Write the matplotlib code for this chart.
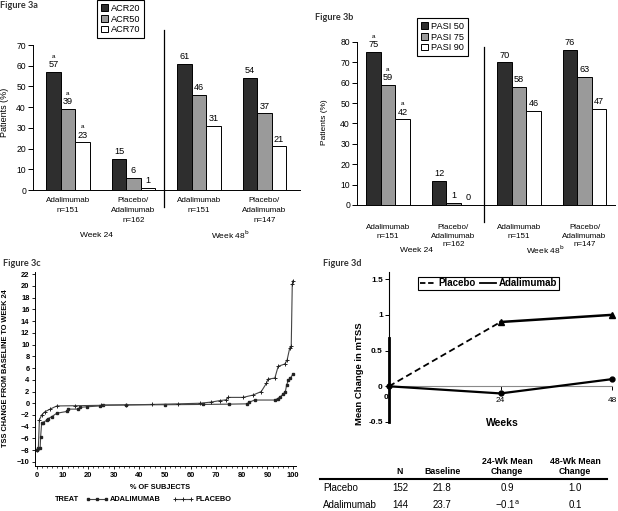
import numpy as np
import matplotlib
matplotlib.use('Agg')
import matplotlib.pyplot as plt
from matplotlib.lines import Line2D

plt.rcParams['font.family'] = ['Liberation Sans', 'DejaVu Sans']
NARROW = ['Liberation Sans', 'DejaVu Sans']
TITLE = ['Lato', 'DejaVu Sans']

# ---- data ----
acr_groups = ['Adalimumab\nn=151', 'Placebo/\nAdalimumab\nn=162',
              'Adalimumab\nn=151', 'Placebo/\nAdalimumab\nn=147']
acr_names = ['ACR20', 'ACR50', 'ACR70']
acr20 = [57, 15, 61, 54]
acr50 = [39, 6, 46, 37]
acr70 = [23, 1, 31, 21]
acr_sig = [True, False, False, False]

pasi_groups = ['Adalimumab\nn=151', 'Placebo/\nAdalimumab\nn=162',
               'Adalimumab\nn=151', 'Placebo/\nAdalimumab\nn=147']
pasi_names = ['PASI 50', 'PASI 75', 'PASI 90']
pasi50 = [75, 12, 70, 76]
pasi75 = [59, 1, 58, 63]
pasi90 = [42, 0, 46, 47]
pasi_sig = [True, False, False, False]

# cumulative probability plot (% of subjects, TSS change)
adal_pct = [0, 0.4, 1.3, 1.5, 1.9, 2.3, 3.9, 4.5, 5.8, 7.8, 11.7, 12.3, 16.2, 16.9,
            19.5, 24.7, 26, 35, 50, 65, 75, 82, 83, 85, 93, 94, 95, 96, 97, 97.5,
            98.2, 99, 100]
adal_tss = [-7.9, -7.7, -7.7, -5.7, -3.4, -3.3, -2.9, -2.6, -2.3, -1.7, -1.4, -1.0,
            -1.0, -0.7, -0.6, -0.46, -0.3, -0.28, -0.25, -0.2, -0.15, -0.1, 0.2, 0.55,
            0.55, 0.8, 1.1, 1.5, 2.0, 3.1, 4.0, 4.3, 5.0]
plac_pct = [0, 0.6, 1.0, 1.9, 3.2, 5.2, 7.8, 15, 25, 35, 45, 55, 63.6, 68, 71.4, 74,
            74.6, 80.5, 84.4, 87.6, 89.6, 90.2, 92.9, 94.2, 96.8, 97.7, 98.7, 99.3,
            99.7, 100]
plac_tss = [-7.9, -7.8, -2.85, -2.0, -1.44, -1.0, -0.46, -0.42, -0.35, -0.28, -0.2,
            -0.1, 0.0, 0.2, 0.45, 0.6, 1.0, 1.0, 1.4, 2.0, 3.4, 4.1, 4.3, 6.3, 6.7,
            7.4, 9.4, 9.8, 20.3, 20.9]

weeks = [0, 24, 48]
placebo_mtss = [0, 0.9, 1.0]
adal_mtss = [0, -0.1, 0.1]

tbl_cols = ['N', 'Baseline', '24-Wk Mean\nChange', '48-Wk Mean\nChange']
tbl_rows = ['Placebo', 'Adalimumab']
tbl_vals = [['152', '21.8', '0.9', '1.0'],
            ['144', '23.7', '\u22120.1$^{\\mathrm{a}}$', '0.1']]

# ---- layout helpers (pixel coords of a 618x511 canvas) ----
W, H = 618, 511
def rect(l, t, r, b):
    return [l / W, 1 - b / H, (r - l) / W, (b - t) / H]
def fx(x):
    return x / W
def fy(y):
    return 1 - y / H

fig = plt.figure(figsize=(6.18, 5.11), dpi=100)
BAR_COLORS = ['#2e2e2e', '#9a9a9a', 'white']
BW = 0.221


def bar_panel(ax, groups, series, names, sig, ymax, xlim, pad, linesp, div_y):
    x = np.arange(len(groups))
    handles = []
    for k, (vals, col) in enumerate(zip(series, BAR_COLORS)):
        bars = ax.bar(x + (k - 1) * BW, vals, BW, color=col, edgecolor='black', linewidth=0.7)
        handles.append(bars)
        for i, (b, v) in enumerate(zip(bars, vals)):
            cx = b.get_x() + b.get_width() / 2
            ax.annotate(str(v), (cx, v), xytext=(0, 2), textcoords='offset points',
                        ha='center', va='bottom', fontsize=6.6)
            if sig[i]:
                ax.annotate('a', (cx, v), xytext=(0, 9.5), textcoords='offset points',
                            ha='center', va='bottom', fontsize=4.5)
    ax.set_xlim(*xlim)
    ax.set_ylim(0, ymax)
    ax.set_yticks(np.arange(0, ymax + 1, 10))
    ax.set_xticks(x, groups)
    ax.tick_params(axis='x', length=0, pad=pad, labelsize=5.8)
    ax.tick_params(axis='y', length=3.5, width=0.7, labelsize=6.2, pad=1.5)
    for lbl in ax.get_xticklabels():
        lbl.set_linespacing(linesp)
    for s in ['top', 'right']:
        ax.spines[s].set_visible(False)
    ax.spines['left'].set_linewidth(0.7)
    ax.spines['bottom'].set_linewidth(0.7)
    ax.plot([1.46, 1.46], div_y, color='black', lw=0.9, clip_on=False)
    return handles


def box_legend(ax, handles, names, left, top):
    leg = ax.legend(handles, names, loc='upper left', bbox_to_anchor=(fx(left), fy(top)),
                    bbox_transform=fig.transFigure, fancybox=False, edgecolor='black',
                    fontsize=6.6, handlelength=0.75, handleheight=0.75, handletextpad=0.4,
                    borderpad=0.4, labelspacing=0.2, borderaxespad=0, framealpha=1)
    leg.get_frame().set_linewidth(0.8)


# ---- Figure 3a ----
ax = fig.add_axes(rect(33, 45, 300, 190))
h = bar_panel(ax, acr_groups, [acr20, acr50, acr70], acr_names, acr_sig, 70,
              ((33 - 68) / 65.5, (300 - 68) / 65.5), 5.2, 1.55, [77.3, -8.2])
box_legend(ax, h, acr_names, 97, 0)
fig.text(fx(5), fy(112), 'Patients (%)', rotation=90, ha='center', va='center', fontsize=6.5)
fig.text(fx(96), fy(235), 'Week 24', ha='center', va='center', fontsize=6)
fig.text(fx(230), fy(235), 'Week 48$^{\\mathrm{b}}$', ha='center', va='center', fontsize=6)
fig.text(fx(0), fy(6), 'Figure 3a', ha='left', va='center', fontsize=6.6,
         fontweight='bold', family=TITLE, color='#333333')

# ---- Figure 3b ----
ax = fig.add_axes(rect(357, 42, 615, 205))
h = bar_panel(ax, pasi_groups, [pasi50, pasi75, pasi90], pasi_names, pasi_sig, 80,
              ((357 - 388) / 65.5, (615 - 388) / 65.5), 14, 1.3, [77.5, -8.3])
box_legend(ax, h, pasi_names, 417, 18)
fig.text(fx(325), fy(122), 'Patients (%)', rotation=90, ha='center', va='center', fontsize=6)
fig.text(fx(416), fy(250), 'Week 24', ha='center', va='center', fontsize=6)
fig.text(fx(545), fy(250), 'Week 48$^{\\mathrm{b}}$', ha='center', va='center', fontsize=6)
fig.text(fx(315), fy(17), 'Figure 3b', ha='left', va='center', fontsize=6.6,
         fontweight='bold', family=TITLE, color='#333333')

# ---- Figure 3c ----
ax = fig.add_axes(rect(35, 272.5, 295.6, 466))
ax.plot(adal_pct, adal_tss, color='#444444', lw=0.8, marker='s', ms=1.5,
        mfc='#222222', mec='#222222')
ax.plot(plac_pct, plac_tss, color='#444444', lw=0.8, marker='+', ms=2.6,
        mec='#222222', mew=0.7)
ax.set_xlim(-0.7, 101)
ax.set_ylim(-10.7, 22.3)
ax.set_xticks(np.arange(0, 101, 10))
ax.set_xticks(np.arange(0, 101, 2), minor=True)
ax.set_yticks(np.arange(-10, 23, 2))
ax.tick_params(which='major', length=2.5, width=0.6, labelsize=5.4, pad=1.5)
ax.tick_params(which='minor', length=1.5, width=0.5)
for lbl in ax.get_xticklabels() + ax.get_yticklabels():
    lbl.set_family(NARROW)
    lbl.set_fontweight('bold')
for s in ['top', 'right']:
    ax.spines[s].set_visible(False)
ax.spines['left'].set_linewidth(0.7)
ax.spines['bottom'].set_linewidth(0.7)
fig.text(fx(6), fy(368), 'TSS CHANGE FROM BASELINE TO WEEK 24', rotation=90,
         ha='center', va='center', fontsize=5.3, fontweight='bold', family=NARROW)
fig.text(fx(160), fy(487), '% OF SUBJECTS', ha='center', va='center', fontsize=5.3,
         fontweight='bold', family=NARROW)
fig.text(fx(55), fy(499), 'TREAT', ha='left', va='center', fontsize=5.3,
         fontweight='bold', family=NARROW)
fig.add_artist(Line2D([fx(88), fx(97), fx(106)], [fy(499)] * 3, transform=fig.transFigure,
                      color='#444444', lw=0.8, marker='s', ms=1.5, mfc='#222222', mec='#222222'))
fig.text(fx(110), fy(499), 'ADALIMUMAB', ha='left', va='center', fontsize=5.3,
         fontweight='bold', family=NARROW)
fig.add_artist(Line2D([fx(175), fx(183), fx(191)], [fy(499)] * 3, transform=fig.transFigure,
                      color='#444444', lw=0.8, marker='+', ms=2.6, mec='#222222', mew=0.7))
fig.text(fx(195), fy(499), 'PLACEBO', ha='left', va='center', fontsize=5.3,
         fontweight='bold', family=NARROW)
fig.text(fx(3), fy(264), 'Figure 3c', ha='left', va='center', fontsize=6.6,
         fontweight='bold', family=TITLE, color='#333333')

# ---- Figure 3d ----
ax = fig.add_axes(rect(389, 272, 612, 422))
ax.plot(weeks[:2], placebo_mtss[:2], color='black', lw=1.3, ls=(0, (3.5, 2)))
ax.plot(weeks[1:], placebo_mtss[1:], color='black', lw=1.8, marker='^', ms=4.5, clip_on=False)
ax.plot(weeks, adal_mtss, color='black', lw=1.6, marker='o', ms=3.5, clip_on=False, zorder=3)
ax.plot([0, 0], [-0.5, 0.67], color='black', lw=2, clip_on=False)
ax.set_xlim(0, 48)
ax.set_ylim(-0.5, 1.6)
ax.set_yticks([-0.5, 0, 0.5, 1, 1.5], ['-0.5', '0', '0.5', '1', '1.5'])
ax.set_xticks(weeks[1:], [str(w) for w in weeks[1:]])
ax.annotate(str(weeks[0]), (weeks[0], 0), xytext=(-1.8, -5.5), textcoords='offset points',
            ha='center', va='top', fontsize=6, fontweight='bold', annotation_clip=False)
ax.tick_params(axis='y', length=3, width=0.7, labelsize=6, pad=1.5)
ax.tick_params(axis='x', length=3, width=0.7, labelsize=6, pad=4.5)
for lbl in ax.get_xticklabels() + ax.get_yticklabels():
    lbl.set_fontweight('bold')
for s in ['top', 'right']:
    ax.spines[s].set_visible(False)
ax.spines['bottom'].set_position(('data', 0))
ax.spines['bottom'].set_color('#8a8a8a')
ax.spines['left'].set_linewidth(0.8)
leg = ax.legend([Line2D([], [], color='black', lw=1.3, ls=(0, (3, 1.5))),
                 Line2D([], [], color='black', lw=1.3)], ['Placebo', 'Adalimumab'],
                ncol=2, loc='center', bbox_to_anchor=(fx(488.5), fy(283.5)),
                bbox_transform=fig.transFigure, fancybox=False, edgecolor='black',
                prop={'weight': 'bold', 'size': 7}, handlelength=1.6, handletextpad=0.3,
                columnspacing=0.5, borderpad=0.2, borderaxespad=0, framealpha=1)
leg.get_frame().set_linewidth(0.8)
fig.text(fx(360), fy(374), 'Mean Change in mTSS', rotation=90, ha='center', va='center',
         fontsize=6.8, fontweight='bold')
fig.text(fx(502), fy(423), 'Weeks', ha='center', va='center', fontsize=7.5, fontweight='bold')
fig.text(fx(323), fy(264), 'Figure 3d', ha='left', va='center', fontsize=6.6,
         fontweight='bold', family=TITLE, color='#333333')

# table under 3d
col_x = [400, 442, 507, 575]
for cx, c in zip(col_x, tbl_cols):
    fig.text(fx(cx), fy(476), c, ha='center', va='bottom', fontsize=6.3,
             fontweight='bold', linespacing=1.2)
fig.add_artist(Line2D([fx(320), fx(607)], [fy(479)] * 2, transform=fig.transFigure,
                      color='black', lw=1.5))
for ry, name, vals in zip([487.5, 504.5], tbl_rows, tbl_vals):
    fig.text(fx(323), fy(ry), name, ha='left', va='center', fontsize=7)
    for cx, v in zip(col_x, vals):
        fig.text(fx(cx), fy(ry), v, ha='center', va='center', fontsize=7)

fig.savefig('out.png', dpi=100)
